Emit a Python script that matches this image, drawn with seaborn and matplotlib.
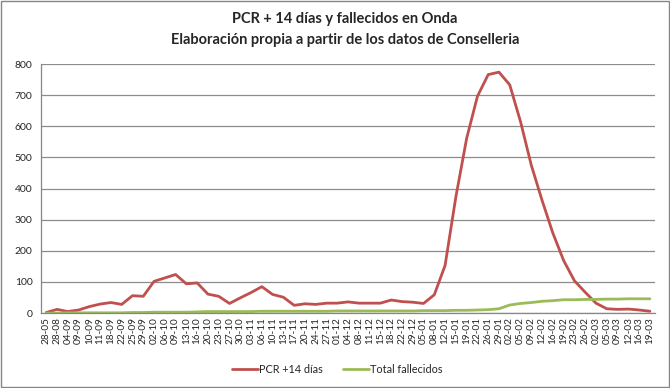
import matplotlib
matplotlib.use("Agg")
from matplotlib import pyplot as plt
from matplotlib.patches import Rectangle
import numpy as np
import pandas as pd
import seaborn as sns

# fechas del eje x
fechas = ['28-05', '28-08', '04-09', '09-09', '10-09', '11-09', '18-09', '22-09', '25-09', '29-09',
          '02-10', '06-10', '09-10', '13-10', '16-10', '20-10', '23-10', '27-10', '30-10', '03-11',
          '06-11', '10-11', '13-11', '17-11', '20-11', '24-11', '27-11', '01-12', '04-12', '08-12',
          '11-12', '15-12', '18-12', '22-12', '29-12', '05-01', '08-01', '12-01', '15-01', '19-01',
          '22-01', '26-01', '29-01', '02-02', '05-02', '09-02', '12-02', '16-02', '19-02', '23-02',
          '26-02', '02-03', '05-03', '09-03', '12-03', '16-03', '19-03']

# PCR +14 dias
pcr = [2, 12, 5, 10, 21, 29, 34, 28, 56, 54,
       102, 113, 124, 94, 97, 61, 54, 31, 49, 66,
       85, 60, 51, 25, 30, 28, 32, 32, 36, 32,
       32, 32, 42, 37, 35, 31, 59, 153, 373, 561,
       696, 766, 774, 733, 615, 475, 362, 257, 169, 104,
       67, 32, 14, 12, 13, 10, 6]

# total fallecidos
fallecidos = [0, 0, 1, 1, 1, 1, 1, 1, 2, 2,
              3, 3, 3, 3, 4, 5, 5, 5, 5, 5,
              6, 6, 6, 6, 6, 6, 6, 7, 7, 7,
              7, 7, 7, 7, 7, 8, 8, 8, 9, 9,
              10, 11, 14, 26, 31, 34, 38, 40, 43, 43,
              44, 44, 45, 45, 46, 46, 46]

series = ['PCR +14 días', 'Total fallecidos']
colores = ['#C0504D', '#9BBB59']

df = pd.DataFrame({
    'pos': list(range(len(fechas))) * 2,
    'valor': pcr + fallecidos,
    'serie': [series[0]] * len(pcr) + [series[1]] * len(fallecidos),
})

sns.set_style('white')
plt.rcParams['font.family'] = ['Lato', 'DejaVu Sans']

fig = plt.figure(figsize=(6.7, 3.88), dpi=100)
ax = fig.add_axes([0.061, 0.193, 0.917, 0.642])

sns.lineplot(data=df, x='pos', y='valor', hue='serie', palette=colores,
             linewidth=2.0, ax=ax, legend=True)

ax.set_xlim(-0.5, len(fechas) - 0.5)
ax.set_ylim(0, 800)
ax.set_yticks(range(0, 801, 100))
ax.set_xticks(range(len(fechas)))
ax.set_xticklabels(fechas, rotation=90, fontsize=7.2)
ax.tick_params(axis='y', labelsize=7.5, length=3, color='#868686', pad=3)
ax.tick_params(axis='x', length=0, pad=3)
ax.yaxis.grid(True, color='#8c8c8c', linewidth=0.9)
ax.set_axisbelow(True)
for s in ['top', 'right']:
    ax.spines[s].set_visible(False)
for s in ['left', 'bottom']:
    ax.spines[s].set_color('#868686')
    ax.spines[s].set_linewidth(0.9)
ax.set_xlabel('')
ax.set_ylabel('')

fig.text(0.515, 1 - 19 / 388, 'PCR + 14 días y fallecidos en Onda',
         ha='center', va='center', fontsize=10.5, fontweight='bold')
fig.text(0.515, 1 - 40 / 388, 'Elaboración propia a partir de los datos de Conselleria',
         ha='center', va='center', fontsize=10.5, fontweight='bold')

leg = ax.legend(loc='center', bbox_to_anchor=(0.482, -0.225), ncol=2, frameon=False,
                fontsize=7.8, handlelength=2.4, handletextpad=0.1, columnspacing=1.9)

# borde exterior del grafico
fig.patches.append(Rectangle((0.002, 0.003), 0.996, 0.994, transform=fig.transFigure,
                             fill=False, edgecolor='#868686', linewidth=1.0))

fig.savefig('out.png', dpi=100)
